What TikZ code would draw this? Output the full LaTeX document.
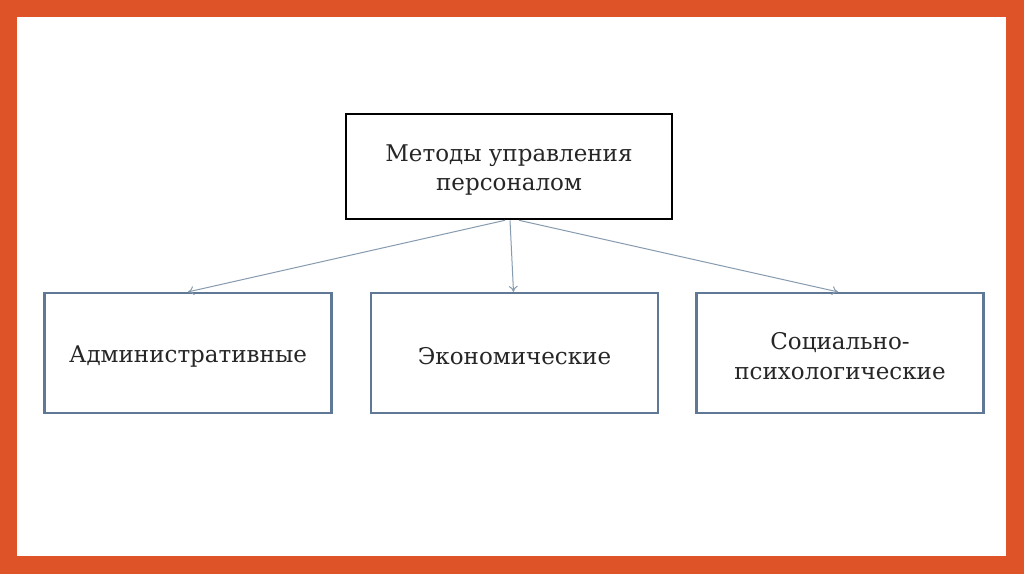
\documentclass[tikz,border=0pt]{standalone}
\usepackage{fontspec}
\setmainfont{DejaVu Serif}
\usetikzlibrary{arrows.meta}
\definecolor{frameorange}{RGB}{222,84,40}
\definecolor{boxblue}{RGB}{95,120,150}
\definecolor{arrowgray}{RGB}{135,155,175}
\tikzset{
  topbox/.style={draw=black,line width=2.6pt,fill=white,minimum width=326pt,minimum height=105pt,align=center,font=\fontsize{23}{29.5}\selectfont,text=black!85},
  subbox/.style={draw=boxblue,line width=2.2pt,fill=white,minimum width=287pt,minimum height=120pt,align=center,font=\fontsize{23}{29.5}\selectfont,text=black!85},
  link/.style={draw=arrowgray,line width=1pt,-{To[length=6pt,width=9pt]}}
}
\begin{document}
\begin{tikzpicture}[x=1pt,y=-1pt]
\useasboundingbox (0,0) rectangle (1024,574);
\fill[frameorange] (0,0) rectangle (1024,574);
\fill[white] (17,17) rectangle (1006,556);
\node[topbox] (top) at (509,166.5) {};
\node[font=\fontsize{23}{29.5}\selectfont,text=black!85,align=center] (toptext) at (509,170) {Методы управления\\персоналом};
\node[subbox] (adm) at (188,353) {};
\node[font=\fontsize{23}{29.5}\selectfont,text=black!85] (admtext) at (188,356) {Административные};
\node[subbox] (eco) at (514.5,353) {};
\node[font=\fontsize{23}{29.5}\selectfont,text=black!85] (ecotext) at (514.5,356) {Экономические};
\node[subbox] (soc) at (840,353) {};
\node[font=\fontsize{23}{29.5}\selectfont,text=black!85,align=center] (soctext) at (840,356) {Социально-\\психологические};
\coordinate (s1) at ([xshift=-4pt]top.south);
\coordinate (s2) at ([xshift=1pt]top.south);
\coordinate (s3) at ([xshift=10pt]top.south);
\coordinate (e1) at (adm.north);
\coordinate (e2) at ([xshift=-1pt]eco.north);
\coordinate (e3) at ([xshift=-2pt]soc.north);
\draw[link] (s1) -- (e1);
\draw[link] (s2) -- (e2);
\draw[link] (s3) -- (e3);
\end{tikzpicture}
\end{document}
